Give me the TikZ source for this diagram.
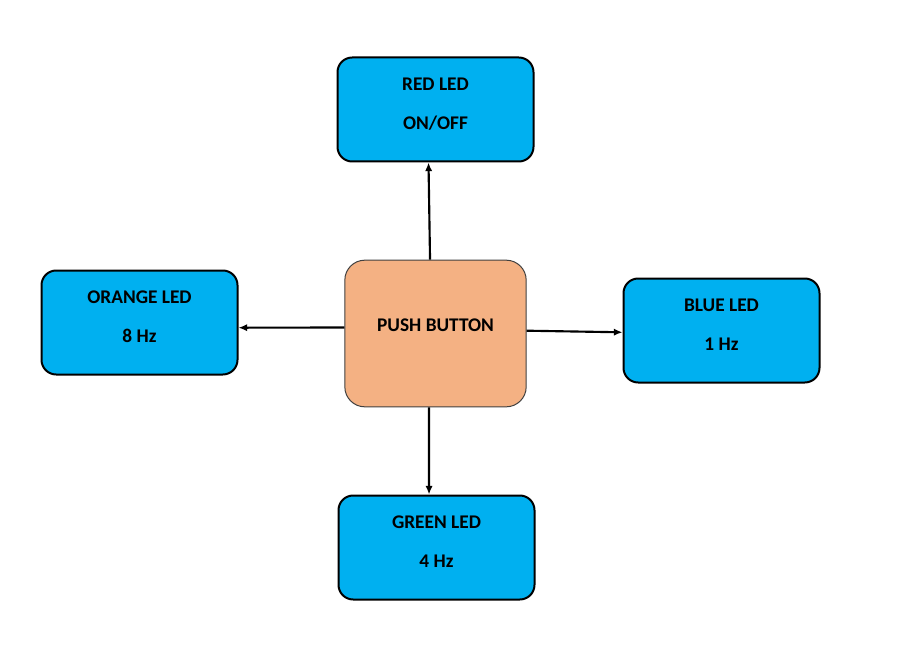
\documentclass[tikz,border=0pt]{standalone}
\usepackage{fontspec}
\setmainfont{Carlito}
\usepackage{xcolor}
\usepackage{tikz}
\usetikzlibrary{shapes, arrows, arrows.meta, positioning, calc}

\definecolor{ledblue}{HTML}{00B0F0}
\definecolor{btnorange}{HTML}{F4B183}

\begin{document}
\begin{tikzpicture}[
            x=0.75pt, y=-0.75pt,
            led/.style={rectangle, draw=black, line width=1.5pt, fill=ledblue, rounded corners=11pt,
                minimum width=147pt, minimum height=78pt, align=center,
                font=\fontsize{14.5}{29}\selectfont\bfseries, text depth=9pt},
            button/.style={rectangle, draw=black!75, line width=0.75pt, fill=btnorange, rounded corners=15pt,
                minimum width=136pt, minimum height=110pt, align=center,
                font=\fontsize{14.5}{17}\selectfont\bfseries, text depth=12pt},
            link/.style={-{Latex[length=6.5pt,width=5.5pt]}, line width=1.6pt}
        ]
        \useasboundingbox (0,0) rectangle (899,649);

        \node[button] (push) at (435.5,333.5) {PUSH BUTTON};

        \node[led] (red_led) at (435.5,109.5) {RED LED\\ON/OFF};
        \node[led] (orange_led) at (139.5,322.5) {ORANGE LED\\8 Hz};
        \node[led] (blue_led) at (721.5,330.5) {BLUE LED\\1 Hz};
        \node[led] (green_led) at (436.5,547.5) {GREEN LED\\4 Hz};

        % Button to LEDs
        \draw[link] ([xshift=-4.1pt]push.north) -- ([xshift=-5.25pt]red_led.south);
        \draw[link] ([yshift=4.5pt]push.west) -- ([yshift=-3.9pt]orange_led.east);
        \draw[link] ([yshift=2.1pt]push.east) -- ([yshift=-1.35pt]blue_led.west);
        \draw[link] ([xshift=-4.9pt]push.south) -- ([xshift=-5.6pt]green_led.north);

    \end{tikzpicture}
\end{document}
